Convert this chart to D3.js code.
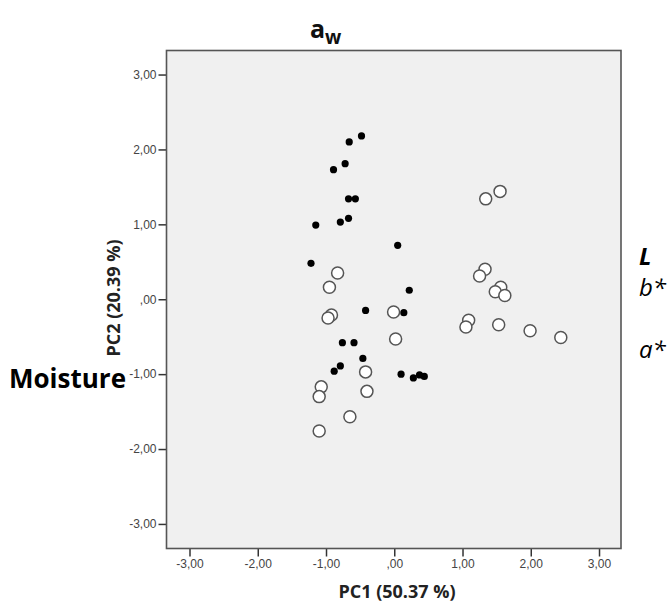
<!DOCTYPE html>
<html>
<head>
<meta charset="utf-8">
<script src="https://cdn.jsdelivr.net/npm/d3@7"></script>
<style>
  html, body { margin: 0; padding: 0; background: #ffffff; }
  svg { display: block; }
</style>
</head>
<body>
<svg id="chart" width="671" height="607"></svg>
<script>
// ---- data ----
const tickValues = [-3, -2, -1, 0, 1, 2, 3];
const tickLabels = ["-3,00", "-2,00", "-1,00", ",00", "1,00", "2,00", "3,00"];

// Filled (black) points: PC1, PC2
const filledPC1 = [-0.48, -0.66, -0.72, -0.89, -0.67, -0.57, -0.67, -0.79, -1.15, 0.05, -1.22, 0.22,
                   -0.42, 0.14, -0.76, -0.59, -0.46, -0.79, -0.88, 0.10, 0.28, 0.37, 0.44];
const filledPC2 = [2.18, 2.10, 1.81, 1.73, 1.34, 1.34, 1.08, 1.03, 0.99, 0.72, 0.48, 0.12,
                   -0.15, -0.18, -0.58, -0.58, -0.79, -0.89, -0.96, -1.00, -1.05, -1.01, -1.03];

// Open (white) points: PC1, PC2
const openPC1 = [-0.83, -0.95, -0.92, -0.97, -0.01, 0.02, -0.42, -1.07, -1.10, -0.40, -0.65, -1.10,
                 1.55, 1.34, 1.33, 1.25, 1.56, 1.48, 1.62, 1.09, 1.05, 1.53, 1.99, 2.44];
const openPC2 = [0.35, 0.16, -0.21, -0.25, -0.17, -0.53, -0.97, -1.17, -1.30, -1.23, -1.57, -1.76,
                 1.44, 1.34, 0.40, 0.31, 0.16, 0.10, 0.05, -0.28, -0.37, -0.34, -0.42, -0.51];

const titleMain = "a";
const titleSub = "w";
const xTitle = "PC1 (50.37 %)";
const yTitle = "PC2 (20.39 %)";
const leftLabel = "Moisture";
const rightLabels = [
  { text: "L", bold: true },
  { text: "b*", bold: false },
  { text: "a*", bold: false }
];

// ---- layout ----
const svg = d3.select("#chart");
const frame = { left: 166.5, right: 621, top: 50.5, bottom: 548.5 };

const x = d3.scaleLinear().domain([-3.337, 3.322]).range([frame.left, frame.right]);
const y = d3.scaleLinear().domain([-3.328, 3.321]).range([frame.bottom, frame.top]);

// plot background
svg.append("rect")
  .attr("x", frame.left).attr("y", frame.top)
  .attr("width", frame.right - frame.left).attr("height", frame.bottom - frame.top)
  .attr("fill", "#f0f0f0");

const fmt = v => tickLabels[tickValues.indexOf(v)];

// axes
const xAxis = svg.append("g")
  .attr("transform", `translate(0,${frame.bottom})`)
  .call(d3.axisBottom(x).tickValues(tickValues).tickFormat(fmt).tickSize(8).tickPadding(3));
const yAxis = svg.append("g")
  .attr("transform", `translate(${frame.left},0)`)
  .call(d3.axisLeft(y).tickValues(tickValues).tickFormat(fmt).tickSize(8).tickPadding(2));

[xAxis, yAxis].forEach(g => {
  g.select(".domain").remove();
  g.selectAll(".tick line").attr("stroke", "#333").attr("stroke-width", 1.5);
  g.selectAll(".tick text")
    .attr("fill", "#444")
    .style("font-family", "'Liberation Sans', Arial, sans-serif")
    .style("font-size", "12px");
});

// frame
svg.append("rect")
  .attr("x", frame.left).attr("y", frame.top)
  .attr("width", frame.right - frame.left).attr("height", frame.bottom - frame.top)
  .attr("fill", "none").attr("stroke", "#555").attr("stroke-width", 1.6);

// points
const filled = filledPC1.map((v, i) => ({ x: v, y: filledPC2[i] }));
const open = openPC1.map((v, i) => ({ x: v, y: openPC2[i] }));

svg.append("g").selectAll("circle").data(filled).join("circle")
  .attr("cx", d => x(d.x)).attr("cy", d => y(d.y))
  .attr("r", 3.6).attr("fill", "#000");

svg.append("g").selectAll("circle").data(open).join("circle")
  .attr("cx", d => x(d.x)).attr("cy", d => y(d.y))
  .attr("r", 6).attr("fill", "#fff").attr("stroke", "#555").attr("stroke-width", 1.5);

// titles
const boldFont = "'Open Sans', 'Noto Sans', sans-serif";
const title = svg.append("text")
  .attr("x", 310).attr("y", 38)
  .style("font-family", boldFont).style("font-weight", "bold").style("font-size", "25px")
  .attr("fill", "#111");
title.append("tspan").text(titleMain);
title.append("tspan").attr("dy", 6).style("font-size", "19px").text(titleSub);

svg.append("text")
  .attr("x", 397).attr("y", 598)
  .attr("text-anchor", "middle")
  .style("font-family", boldFont).style("font-weight", "bold").style("font-size", "18px")
  .attr("fill", "#222").text(xTitle);

svg.append("text")
  .attr("transform", `translate(120,298) rotate(-90)`)
  .attr("text-anchor", "middle")
  .style("font-family", boldFont).style("font-weight", "bold").style("font-size", "18px")
  .attr("fill", "#222").text(yTitle);

svg.append("text")
  .attr("x", 9).attr("y", 388)
  .style("font-family", boldFont).style("font-weight", "bold").style("font-size", "26px")
  .attr("fill", "#000").text(leftLabel);

const rightY = [265, 296, 358];
svg.append("g").selectAll("text").data(rightLabels).join("text")
  .attr("x", 639).attr("y", (d, i) => rightY[i])
  .style("font-family", boldFont).style("font-style", "italic")
  .style("font-weight", d => d.bold ? "bold" : "normal")
  .style("font-size", "24px")
  .attr("fill", "#000").text(d => d.text);
</script>
</body>
</html>
